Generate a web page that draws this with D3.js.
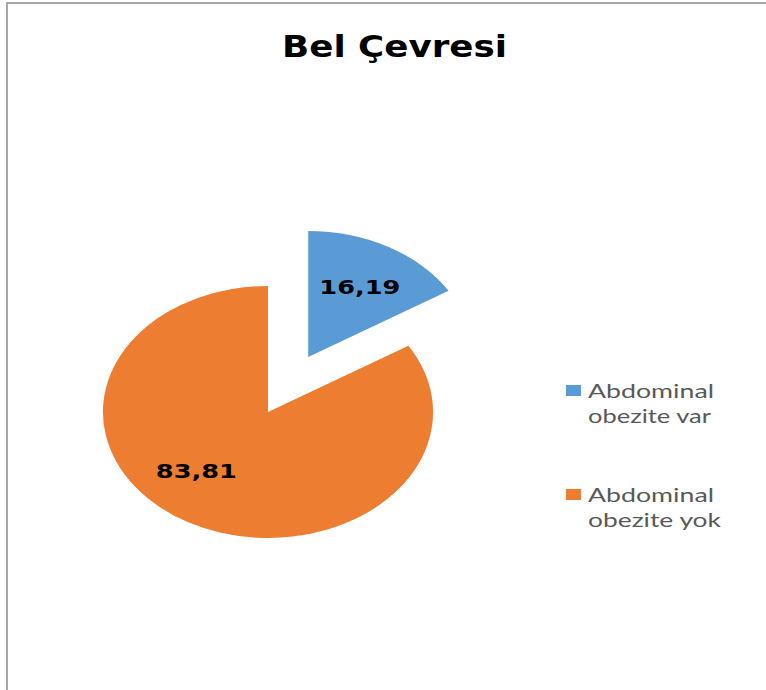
<!DOCTYPE html>
<html>
<head>
<meta charset="utf-8">
<script src="https://cdnjs.cloudflare.com/ajax/libs/d3/7.8.5/d3.min.js"></script>
<style>
  html, body { margin: 0; padding: 0; background: #fff; }
  svg { display: block; }
</style>
</head>
<body>
<script>
const categories = ['Abdominal obezite var', 'Abdominal obezite yok']
const legendLines = [['Abdominal', 'obezite var'], ['Abdominal', 'obezite yok']]
const values = [16.19, 83.81]
const valueLabels = ['16,19', '83,81']
const colors = ['#5B9BD5', '#ED7D31']

const W = 766, H = 690
const cx = 268, cy = 412
const r = 126
const sx = 1.31 // the picture is stretched sideways

const svg = d3.select('body')
    .append('svg')
    .attr('width', W)
    .attr('height', H)

// frame
svg.append('path')
    .attr('d', 'M7,690 V3 H766')
    .attr('fill', 'none')
    .attr('stroke', '#a6a6a6')
    .attr('stroke-width', 2)

svg.append('text')
    .attr('x', 394.5)
    .attr('y', 57)
    .attr('text-anchor', 'middle')
    .attr('font-family', '"DejaVu Sans", sans-serif')
    .attr('font-weight', 'bold')
    .attr('font-size', 30)
    .attr('textLength', 225)
    .attr('lengthAdjust', 'spacingAndGlyphs')
    .attr('fill', '#000')
    .text('Bel Çevresi')

const pie = d3.pie().sort(null).value(d => d)
const arcs = pie(values)
const arc = d3.arc().innerRadius(0).outerRadius(r)
const explode = [63, 0]
const labelR = [81, 80]
const labelShift = [0, 14 * Math.PI / 180]

const g = svg.append('g')
    .attr('transform', `translate(${cx},${cy}) scale(${sx},1)`)

function offset(d, dist) {
    const a = (d.startAngle + d.endAngle) / 2
    return [dist * Math.sin(a), -dist * Math.cos(a)]
}

g.selectAll('path.slice')
    .data(arcs)
    .join('path')
    .attr('class', 'slice')
    .attr('fill', (d, i) => colors[i])
    .attr('d', arc)
    .attr('transform', (d, i) => {
        const o = offset(d, explode[i])
        return `translate(${o[0]},${o[1]})`
    })

// value labels
svg.selectAll('text.val')
    .data(arcs)
    .join('text')
    .attr('class', 'val')
    .each(function (d, i) {
        const o = offset(d, explode[i])
        const a = (d.startAngle + d.endAngle) / 2 + labelShift[i]
        const x = cx + sx * (o[0] + labelR[i] * Math.sin(a))
        const y = cy + o[1] - labelR[i] * Math.cos(a)
        d3.select(this).attr('x', x).attr('y', y + 7.5)
    })
    .attr('text-anchor', 'middle')
    .attr('font-family', '"DejaVu Sans", sans-serif')
    .attr('font-weight', 'bold')
    .attr('font-size', 20)
    .attr('textLength', 81)
    .attr('lengthAdjust', 'spacingAndGlyphs')
    .attr('fill', '#000')
    .text((d, i) => valueLabels[i])

// legend
const legendY = d3.scaleLinear().domain([0, 1]).range([385, 489])
const lineWidths = [[126, 123], [126, 133]]

const lg = svg.append('g')
    .selectAll('g')
    .data(categories)
    .join('g')
    .attr('transform', (d, i) => `translate(566,${legendY(i)})`)

lg.append('rect')
    .attr('width', 15)
    .attr('height', 11)
    .attr('fill', (d, i) => colors[i])

lg.each(function (d, i) {
    const t = d3.select(this)
    legendLines[i].forEach((line, j) => {
        t.append('text')
            .attr('x', 22)
            .attr('y', 13 + j * 25)
            .attr('font-family', 'Lato, "Open Sans", sans-serif')
            .attr('font-size', 20)
            .attr('textLength', lineWidths[i][j])
            .attr('lengthAdjust', 'spacingAndGlyphs')
            .attr('fill', '#595959')
            .text(line)
    })
})
</script>
</body>
</html>
